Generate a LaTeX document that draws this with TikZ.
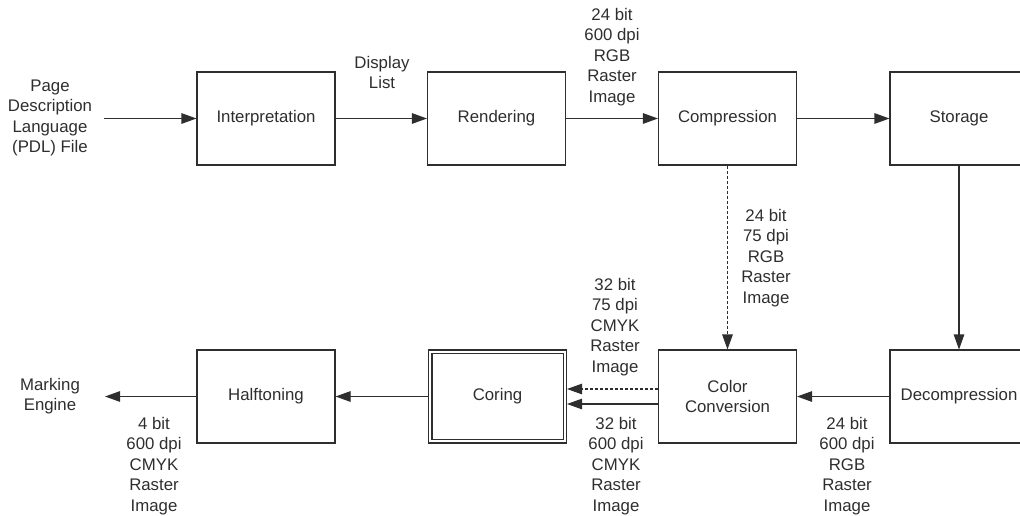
\documentclass[tikz,border=0pt]{standalone}
\usepackage{fontspec}
\setmainfont{Liberation Sans}
\usetikzlibrary{arrows.meta}
\definecolor{ink}{HTML}{2E2E2E}
\tikzset{
  x=1pt, y=1pt,
  every node/.style={text=ink, font=\fontsize{16.8}{20.5}\selectfont, align=center, inner sep=0pt},
  blockbox/.style={draw=ink, line width=1.05pt, minimum width=138pt, minimum height=93pt},
  arr/.style={draw=ink, line width=1.05pt, -{Triangle[length=15pt,width=10.5pt]}},
  dotline/.style={dash pattern=on 3pt off 2pt},
}
\begin{document}
\begin{tikzpicture}
\clip (0,0) rectangle (1020,-515);
% blocks
\node[blockbox] (interp) at (266,-118.5) {Interpretation};
\node[blockbox] (rend) at (496.5,-118.5) {Rendering};
\node[blockbox] (comp) at (727.5,-118.5) {Compression};
\node[blockbox] (stor) at (959,-118.5) {Storage};
\node[blockbox] (decomp) at (959,-396.5) {Decompression};
\node[blockbox] (color) at (727.5,-396.5) {Color\\Conversion};
\node[blockbox] (coring) at (497.5,-396.5) {Coring};
\draw[ink, line width=1.05pt] ([shift={(4pt,4pt)}]coring.south west) rectangle ([shift={(-4pt,-4pt)}]coring.north east);
\node[blockbox] (half) at (266,-396.5) {Halftoning};
% free ends
\coordinate (pdlend) at (104,-118.5);
\coordinate (markend) at (105,-396.5);
% outside labels
\node (pdl) at (50,-118) {Page\\Description\\Language\\(PDL) File};
\node (mark) at (50,-396) {Marking\\Engine};
\node (lbldl) at (382,-72.5) {Display\\List};
\node (lblrgb1) at (612,-57) {24 bit\\600 dpi\\RGB\\Raster\\Image};
\node (lblrgb2) at (766,-258) {24 bit\\75 dpi\\RGB\\Raster\\Image};
\node (lblcmyk1) at (615,-327) {32 bit\\75 dpi\\CMYK\\Raster\\Image};
\node (lblcmyk2) at (616,-466) {32 bit\\600 dpi\\CMYK\\Raster\\Image};
\node (lblrgb3) at (847,-466) {24 bit\\600 dpi\\RGB\\Raster\\Image};
\node (lblcmyk3) at (154,-466) {4 bit\\600 dpi\\CMYK\\Raster\\Image};
% connectors
\draw[arr] (pdlend) -- (interp.west);
\draw[arr] (interp.east) -- (rend.west);
\draw[arr] (rend.east) -- (comp.west);
\draw[arr] (comp.east) -- (stor.west);
\draw[arr] (stor.south) -- (decomp.north);
\draw[arr, dotline] (comp.south) -- (color.north);
\draw[arr] (decomp.west) -- (color.east);
\draw[arr, dotline] ([yshift=7.5pt]color.west) -- ([yshift=7.5pt]coring.east);
\draw[arr] ([yshift=-7.5pt]color.west) -- ([yshift=-7.5pt]coring.east);
\draw[arr] (coring.west) -- (half.east);
\draw[arr] (half.west) -- (markend);
\end{tikzpicture}
\end{document}
